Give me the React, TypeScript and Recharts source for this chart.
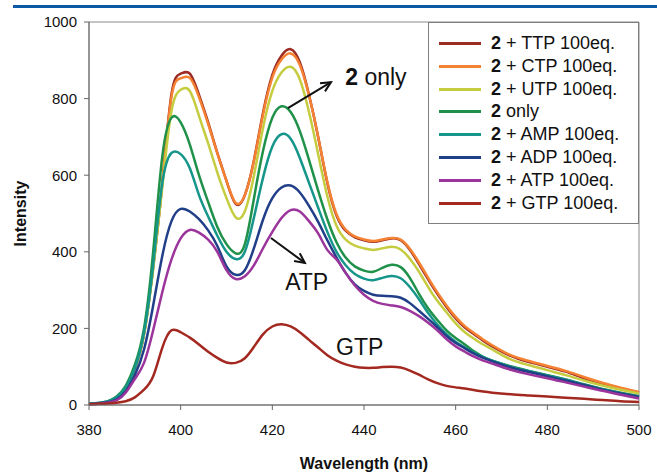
import {
  LineChart,
  Line,
  XAxis,
  YAxis,
  ReferenceArea,
  ReferenceLine,
  ReferenceDot,
} from "recharts";

// wavelength (nm)
const wavelengths = [
  380, 382, 384, 386, 388, 390, 392, 394, 396, 398, 400, 402, 404, 406, 408,
  410, 412, 414, 416, 418, 420, 422, 424, 426, 428, 430, 432, 434, 436, 438,
  440, 442, 444, 446, 448, 450, 452, 454, 456, 458, 460, 462, 464, 466, 468,
  472, 476, 480, 484, 488, 492, 496, 500,
];

const ttp = [
  3, 4, 8, 18, 45, 95, 185, 360, 580, 812, 865, 865, 810, 738, 658,
  585, 525, 548, 640, 765, 862, 912, 929, 895, 810, 700, 580, 495, 455, 438,
  430, 426, 430, 435, 430, 405, 368, 328, 290, 256, 226, 202, 185, 168, 153,
  128, 112, 100, 87, 70, 56, 43, 32,
];

const ctp = [
  3, 4, 8, 18, 45, 95, 185, 360, 580, 805, 853, 854, 804, 734, 657,
  585, 528, 548, 638, 760, 855, 902, 918, 888, 808, 700, 582, 498, 458, 440,
  432, 428, 432, 436, 432, 408, 372, 332, 294, 260, 230, 206, 188, 171, 156,
  130, 115, 102, 89, 73, 58, 45, 34,
];

const utp = [
  3, 4, 8, 18, 45, 95, 185, 355, 570, 768, 823, 820, 755, 683, 607,
  540, 490, 506, 600, 725, 820, 868, 883, 850, 765, 655, 545, 468, 432, 416,
  409, 405, 409, 413, 406, 382, 348, 308, 272, 242, 213, 190, 173, 158, 145,
  119, 104, 91, 78, 64, 51, 40, 30,
];

const only = [
  3, 5, 9, 22, 50, 105, 200, 400, 650, 750, 738, 680, 600, 530, 465,
  420, 396, 420, 540, 665, 750, 780, 765, 715, 640, 560, 485, 425, 385, 362,
  351, 348, 358, 366, 360, 332, 290, 252, 222, 195, 175, 158, 140, 126, 116,
  101, 89, 78, 67, 54, 42, 32, 23,
];

const amp = [
  3, 5, 9, 20, 46, 96, 188, 365, 580, 658, 655, 618, 548, 492, 442,
  400, 381, 400, 490, 595, 675, 707, 695, 645, 580, 515, 452, 400, 365, 342,
  330, 326, 332, 337, 331, 308, 276, 240, 210, 185, 165, 150, 136, 125, 116,
  100, 88, 77, 66, 53, 41, 31, 22,
];

const adp = [
  2, 4, 7, 15, 36, 78, 145, 260, 390, 480, 512, 505, 485, 456, 415,
  362, 340, 352, 410, 485, 540, 568, 573, 555, 520, 478, 430, 385, 345, 315,
  298, 288, 285, 284, 280, 266, 246, 225, 203, 180, 162, 148, 134, 123, 114,
  98, 86, 75, 64, 52, 40, 30, 21,
];

const atp = [
  2, 3, 6, 12, 32, 68, 110, 195, 295, 380, 435, 457, 450, 432, 400,
  352, 329, 336, 365, 410, 452, 488, 509, 505, 480, 448, 405, 380, 345, 312,
  288, 272, 264, 260, 256, 246, 232, 215, 195, 172, 153, 139, 126, 116, 108,
  92, 80, 70, 59, 48, 37, 27, 17,
];

const gtp = [
  2, 3, 4, 6, 10, 20, 40, 75, 150, 195, 190, 176, 158, 139, 123,
  111, 110, 122, 152, 185, 205, 211, 205, 190, 170, 150, 130, 116, 106, 100,
  97, 97, 99, 100, 98, 90, 79, 67, 57, 50, 46, 43, 39, 35, 32,
  28, 25, 22, 19, 16, 13, 10, 8,
];

const xTicks = [380, 400, 420, 440, 460, 480, 500];
const yTicks = [0, 200, 400, 600, 800, 1000];

const seriesList = [
  { key: "ttp", label: " + TTP 100eq.", color: "#9c2b24", values: ttp },
  { key: "ctp", label: " + CTP 100eq.", color: "#f58233", values: ctp },
  { key: "utp", label: " + UTP 100eq.", color: "#c5cc3f", values: utp },
  { key: "only", label: " only", color: "#1f9149", values: only },
  { key: "amp", label: " + AMP 100eq.", color: "#16968a", values: amp },
  { key: "adp", label: " + ADP 100eq.", color: "#213f88", values: adp },
  { key: "atp", label: " + ATP 100eq.", color: "#9b359b", values: atp },
  { key: "gtp", label: " + GTP 100eq.", color: "#a3281f", values: gtp },
];

const data = wavelengths.map((wl, i) => {
  const row: Record<string, number> = { wl };
  seriesList.forEach((s) => {
    row[s.key] = s.values[i];
  });
  return row;
});

const FONT = "'Liberation Sans', Arial, sans-serif";

// arrow drawn from a reference segment
function Arrow(props: any) {
  const { x1, y1, x2, y2 } = props;
  const ang = Math.atan2(y2 - y1, x2 - x1);
  const len = 11;
  const p1 = [x2 - len * Math.cos(ang - 0.45), y2 - len * Math.sin(ang - 0.45)];
  const p2 = [x2 - len * Math.cos(ang + 0.45), y2 - len * Math.sin(ang + 0.45)];
  return (
    <g stroke="#111" strokeWidth={2} fill="none">
      <line x1={x1} y1={y1} x2={x2} y2={y2} />
      <polyline points={`${p1[0]},${p1[1]} ${x2},${y2} ${p2[0]},${p2[1]}`} />
    </g>
  );
}

function note(text: string, bold?: string) {
  return (props: any) => (
    <text x={props.cx} y={props.cy} fontSize={23} fill="#111" fontFamily={FONT}>
      {bold && <tspan fontWeight="bold">{bold}</tspan>}
      <tspan>{text}</tspan>
    </text>
  );
}

export default function App() {
  return (
    <div
      style={{
        position: "absolute",
        left: 0,
        top: 0,
        width: 657,
        height: 473,
        background: "#fff",
        fontFamily: FONT,
      }}
    >
      <div
        style={{
          position: "absolute",
          left: 13,
          top: 5,
          width: 644,
          height: 3,
          background: "#0b5aa6",
        }}
      />

      <LineChart
        width={657}
        height={473}
        data={data}
        margin={{ top: 22, right: 18, bottom: 0, left: 0 }}
      >
        <ReferenceArea
          x1={380}
          x2={500}
          y1={0}
          y2={1000}
          fill="none"
          stroke="#8a8a8a"
          strokeWidth={1}
        />
        <XAxis
          dataKey="wl"
          type="number"
          domain={[380, 500]}
          ticks={xTicks}
          height={68}
          tickSize={5}
          tickMargin={14}
          stroke="#666"
          tick={{ fontSize: 15, fill: "#111" }}
          label={{
            value: "Wavelength (nm)",
            position: "insideBottom",
            offset: 4,
            style: { fontWeight: "bold", fontSize: 16, fill: "#111" },
          }}
        />
        <YAxis
          type="number"
          domain={[0, 1000]}
          ticks={yTicks}
          width={89}
          tickSize={5}
          tickMargin={7}
          stroke="#666"
          tick={{ fontSize: 15, fill: "#111" }}
          label={{
            value: "Intensity",
            angle: -90,
            position: "insideLeft",
            offset: 20,
            style: {
              textAnchor: "middle",
              fontWeight: "bold",
              fontSize: 16,
              fill: "#111",
            },
          }}
        />

        {seriesList.map((s) => (
          <Line
            key={s.key}
            type="natural"
            dataKey={s.key}
            stroke={s.color}
            strokeWidth={2.5}
            dot={false}
            isAnimationActive={false}
          />
        ))}

        <ReferenceLine
          segment={[
            { x: 423.4, y: 775 },
            { x: 432.8, y: 843 },
          ]}
          shape={Arrow}
        />
        <ReferenceLine
          segment={[
            { x: 419.7, y: 436 },
            { x: 427.1, y: 371 },
          ]}
          shape={Arrow}
        />
        <ReferenceDot x={435.9} y={836} r={0} shape={note(" only", "2")} />
        <ReferenceDot x={422.8} y={300} r={0} shape={note("ATP")} />
        <ReferenceDot x={433.9} y={130} r={0} shape={note("GTP")} />
      </LineChart>

      <div
        style={{
          position: "absolute",
          left: 428,
          top: 22,
          width: 211,
          height: 202,
          boxSizing: "border-box",
          border: "1px solid #7f7f7f",
          background: "#fff",
          paddingTop: 9,
          paddingLeft: 10,
        }}
      >
        {seriesList.map((s) => (
          <div
            key={s.key}
            style={{
              display: "flex",
              alignItems: "center",
              height: 22.85,
              fontSize: 18,
              color: "#111",
              whiteSpace: "pre",
            }}
          >
            <div
              style={{
                width: 42,
                height: 3,
                background: s.color,
                marginRight: 10,
              }}
            />
            <span>
              <b>2</b>
              {s.label}
            </span>
          </div>
        ))}
      </div>
    </div>
  );
}
